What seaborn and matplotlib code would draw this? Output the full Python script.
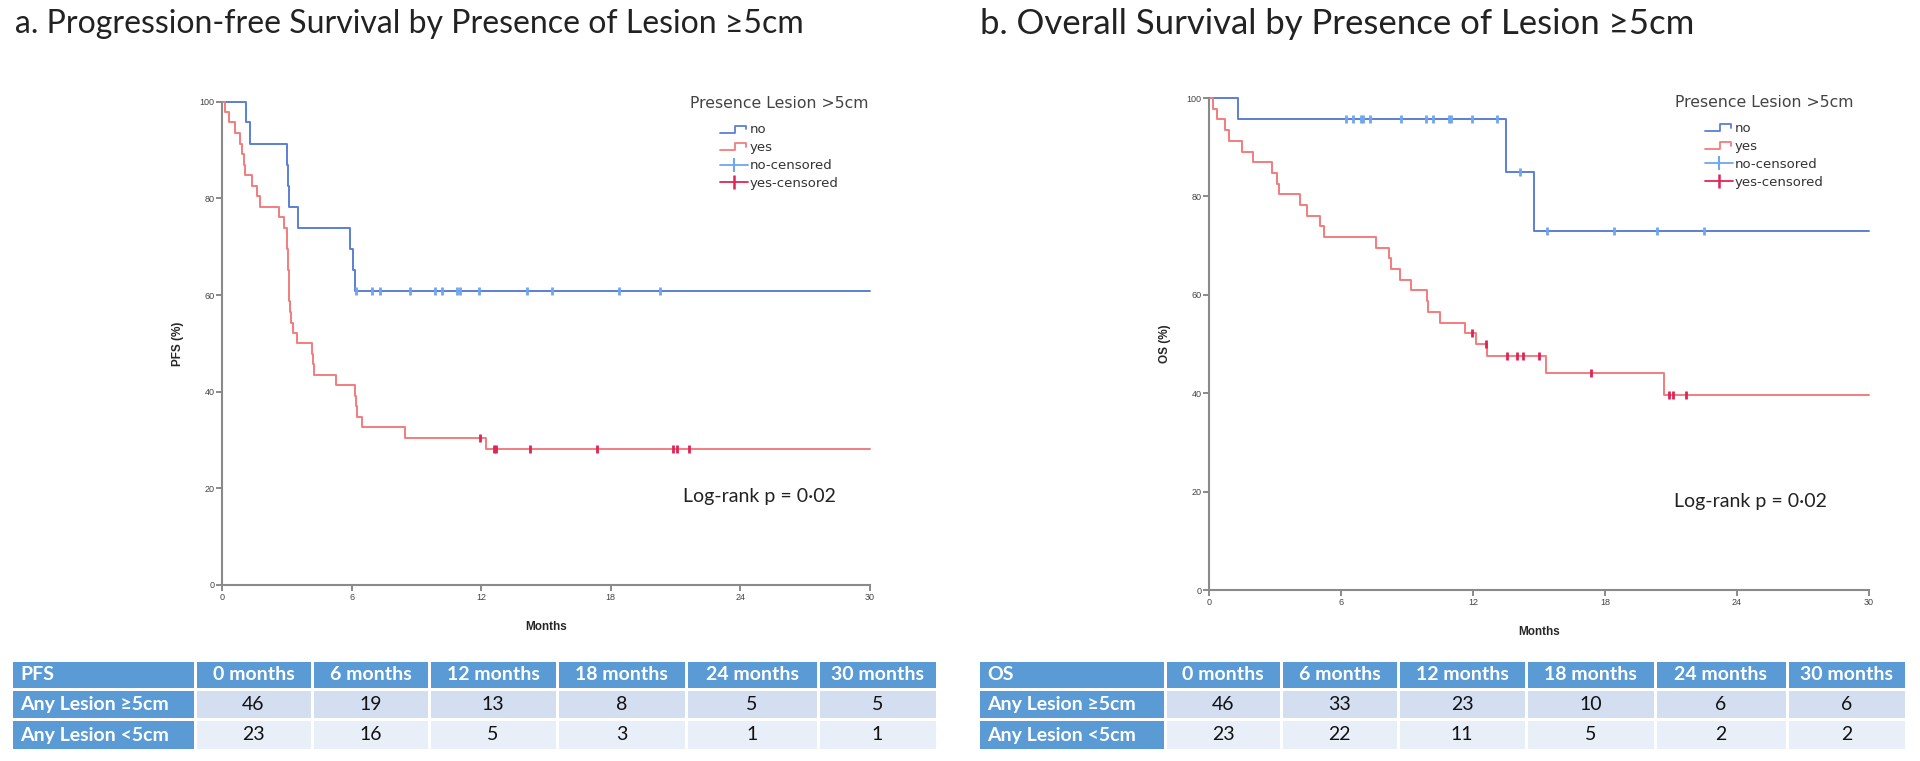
import numpy as np
import matplotlib
matplotlib.use("Agg")
import matplotlib.pyplot as plt
import seaborn as sns
from matplotlib.lines import Line2D
from matplotlib.patches import Rectangle
from matplotlib.legend_handler import HandlerBase

# ---- data ----
# PFS, no lesion >=5cm (n=23)
pfs_no_t = [0, 1.12, 1.3, 3.0, 3.05, 3.1, 3.53, 5.94, 6.05, 6.15, 30]
pfs_no_s = [100, 95.7, 91.3, 87.0, 82.6, 78.3, 73.9, 69.6, 65.2, 60.9, 60.9]
pfs_no_cens = [6.19, 6.93, 7.31, 8.72, 9.85, 10.2, 10.9, 11.0, 11.9, 14.1, 15.3, 18.4, 20.3]

# PFS, lesion >=5cm (n=46)
pfs_yes_t = [0, 0.12, 0.32, 0.58, 0.85, 0.94, 1.02, 1.05, 1.39, 1.62, 1.77, 2.64, 2.85,
             3.0, 3.02, 3.04, 3.06, 3.08, 3.1, 3.12, 3.15, 3.2, 3.3, 3.45,
             4.15, 4.22, 4.28, 5.27, 6.15, 6.2, 6.25, 6.5, 8.47, 12.2, 30]
pfs_yes_s = [100, 97.8, 95.7, 93.5, 91.3, 89.1, 87.0, 84.8, 82.6, 80.4, 78.3, 76.1, 73.9,
             71.7, 69.6, 67.4, 65.2, 63.0, 60.9, 58.7, 56.5, 54.3, 52.2, 50.0,
             47.8, 45.7, 43.5, 41.3, 39.1, 37.0, 34.8, 32.6, 30.4, 28.2, 28.2]
pfs_yes_cens = [11.93, 12.6, 12.7, 14.26, 17.36, 20.87, 21.08, 21.6]

# OS, no lesion >=5cm
os_no_t = [0, 1.3, 13.49, 14.77, 30]
os_no_s = [100, 95.7, 85.0, 72.9, 72.9]
os_no_cens = [6.21, 6.56, 6.9, 7.01, 7.32, 8.73, 9.85, 10.2, 10.9, 11.0, 11.94, 13.1,
              14.14, 15.38, 18.42, 20.35, 22.5]

# OS, lesion >=5cm
os_yes_t = [0, 0.2, 0.38, 0.73, 0.92, 1.48, 2.02, 2.85, 3.11, 3.2, 4.14, 4.47, 5.05, 5.23,
            7.59, 8.2, 8.27, 8.68, 9.17, 9.92, 9.97, 10.5, 11.64, 12.12, 12.62, 15.32, 20.68, 30]
os_yes_s = [100, 97.8, 95.7, 93.5, 91.3, 89.1, 87.0, 84.8, 82.6, 80.4, 78.3, 76.1, 73.9, 71.7,
            69.6, 67.4, 65.2, 63.0, 60.9, 58.7, 56.5, 54.3, 52.2, 49.9, 47.6, 44.1, 39.7, 39.7]
os_yes_cens = [11.94, 12.59, 13.56, 14.02, 14.26, 15.02, 17.36, 20.9, 21.1, 21.68]

# numbers at risk
risk_cols = ['0 months', '6 months', '12 months', '18 months', '24 months', '30 months']
risk_rows = ['Any Lesion \u22655cm', 'Any Lesion <5cm']
pfs_risk_big = [46, 19, 13, 8, 5, 5]
pfs_risk_small = [23, 16, 5, 3, 1, 1]
os_risk_big = [46, 33, 23, 10, 6, 6]
os_risk_small = [23, 22, 11, 5, 2, 2]

# ---- style ----
sns.set_style('white')
plt.rcParams['font.family'] = ['Liberation Sans', 'DejaVu Sans']
LATO = ['Lato', 'DejaVu Sans']

C_NO = '#5a7fd6'
C_NO_CENS = '#6fa6ef'
C_YES = '#f47c7e'
C_YES_CENS = '#df2457'


class StepHandler(HandlerBase):
    def create_artists(self, legend, orig_handle, xdescent, ydescent, width, height, fontsize, trans):
        xs = np.array([0, 0.55, 0.55, 0.95, 0.95]) * width - xdescent
        ys = np.array([0.1, 0.1, 0.85, 0.85, 0.45]) * height - ydescent
        ln = Line2D(xs, ys, color=orig_handle.get_color(), lw=orig_handle.get_linewidth(),
                    transform=trans)
        return [ln]


def step_at(t, s, c):
    idx = np.searchsorted(t, c, side='right') - 1
    return np.asarray(s)[idx]


def km_panel(ax, no_t, no_s, no_c, yes_t, yes_s, yes_c, ylabel, leg_x, leg_y, title_x, title_y,
             lr_x, lr_y):
    sns.lineplot(x=no_t, y=no_s, drawstyle='steps-post', color=C_NO, lw=1.4,
                 estimator=None, sort=False, ax=ax)
    sns.lineplot(x=yes_t, y=yes_s, drawstyle='steps-post', color=C_YES, lw=1.4,
                 estimator=None, sort=False, ax=ax)
    sns.scatterplot(x=no_c, y=step_at(no_t, no_s, no_c), marker='|', s=30,
                    color=C_NO_CENS, linewidth=2.0, ax=ax, zorder=4)
    sns.scatterplot(x=yes_c, y=step_at(yes_t, yes_s, yes_c), marker='|', s=32,
                    color=C_YES_CENS, linewidth=2.0, ax=ax, zorder=4)
    for ln in ax.lines:
        ln.set_clip_on(False)

    ax.set_xlim(0, 30)
    ax.set_ylim(0, 100)
    ax.set_xticks([0, 6, 12, 18, 24, 30])
    ax.set_yticks([0, 20, 40, 60, 80, 100])
    ax.tick_params(axis='both', direction='out', length=4, width=1.2, color='#777',
                   labelsize=6.5, labelcolor='#444', left=True, bottom=True, pad=1.5)
    for side in ['top', 'right']:
        ax.spines[side].set_visible(False)
    for side in ['left', 'bottom']:
        ax.spines[side].set_color('#8a8a8a')
        ax.spines[side].set_linewidth(1.5)
    ax.set_xlabel('Months', fontsize=8.5, fontweight='bold', labelpad=14)
    ax.set_ylabel(ylabel, fontsize=8.5, fontweight='bold', labelpad=11)

    ax.text(title_x, title_y, 'Presence Lesion >5cm', transform=ax.transAxes,
            fontsize=11.3, family='DejaVu Sans', color='#444', ha='left', va='center')
    h_no = Line2D([], [], color=C_NO, lw=1.3)
    h_yes = Line2D([], [], color=C_YES, lw=1.3)
    h_nc = Line2D([], [], color=C_NO_CENS, lw=1.3, marker='|', markersize=10, mew=1.5)
    h_yc = Line2D([], [], color=C_YES_CENS, lw=1.3, marker='|', markersize=10, mew=1.8)
    ax.legend([h_no, h_yes, h_nc, h_yc], ['no', 'yes', 'no-censored', 'yes-censored'],
              handler_map={h_no: StepHandler(), h_yes: StepHandler()},
              loc='upper left', bbox_to_anchor=(leg_x, leg_y), frameon=False,
              prop={'family': 'DejaVu Sans', 'size': 9.5}, handlelength=2.1,
              handletextpad=0.15, labelspacing=0.37,
              borderpad=0, borderaxespad=0, labelcolor='#333')
    ax.text(lr_x, lr_y, 'Log-rank p = 0\u00b702', transform=ax.transAxes,
            fontsize=14, family=LATO, color='#222', ha='left', va='center')


fig = plt.figure(figsize=(19.2, 7.61), dpi=100)

ax1 = fig.add_axes([222 / 1920, 1 - 585 / 761, 648 / 1920, 483.3 / 761])
km_panel(ax1, pfs_no_t, pfs_no_s, pfs_no_cens, pfs_yes_t, pfs_yes_s, pfs_yes_cens, 'PFS (%)',
         0.7685, 0.955, 0.722, 0.9967, 0.712, 0.183)

ax2 = fig.add_axes([1209 / 1920, 1 - 590 / 761, 660 / 1920, 492 / 761])
km_panel(ax2, os_no_t, os_no_s, os_no_cens, os_yes_t, os_yes_s, os_yes_cens, 'OS (%)',
         0.7515, 0.951, 0.706, 0.990, 0.705, 0.18)

# panel titles
fig.text(15 / 1920, 1 - 24 / 761, 'a. Progression-free Survival by Presence of Lesion \u22655cm',
         fontsize=23, family=LATO, color='#222', ha='left', va='center')
fig.text(980 / 1920, 1 - 24 / 761, 'b. Overall Survival by Presence of Lesion \u22655cm',
         fontsize=25, family=LATO, color='#222', ha='left', va='center')

# ---- numbers-at-risk tables, drawn in pixel coordinates ----
tax = fig.add_axes([0, 0, 1, 1], facecolor='none')
tax.set_xlim(0, 1920)
tax.set_ylim(761, 0)
tax.axis('off')

HEAD = '#5b9bd5'
ROW1 = '#d3dff1'
ROW2 = '#e9eff8'
row_edges = [(662, 688), (691, 718), (721, 749)]


def risk_table(col_edges, name, big, small):
    rows = [[name] + risk_cols,
            [risk_rows[0]] + [str(v) for v in big],
            [risk_rows[1]] + [str(v) for v in small]]
    for r, (y0, y1) in enumerate(row_edges):
        for c in range(len(col_edges) - 1):
            x0, x1 = col_edges[c] + 1.5, col_edges[c + 1] - 1.5
            if r == 0 or c == 0:
                fc = HEAD
            else:
                fc = ROW1 if r == 1 else ROW2
            tax.add_patch(Rectangle((x0, y0), x1 - x0, y1 - y0, facecolor=fc, edgecolor='none'))
            txt = rows[r][c]
            if c == 0:
                tax.text(x0 + 8, (y0 + y1) / 2, txt, ha='left', va='center', fontsize=14,
                         family=LATO, fontweight='bold', color='white')
            elif r == 0:
                tax.text((x0 + x1) / 2, (y0 + y1) / 2, txt, ha='center', va='center',
                         fontsize=14, family=LATO, fontweight='bold', color='white')
            else:
                tax.text((x0 + x1) / 2, (y0 + y1) / 2, txt, ha='center', va='center',
                         fontsize=14, family=LATO, color='#111')


risk_table([11, 195, 312, 429, 557, 686, 818, 937], 'PFS', pfs_risk_big, pfs_risk_small)
risk_table([978, 1165, 1281, 1398, 1526, 1655, 1787, 1906], 'OS', os_risk_big, os_risk_small)

fig.savefig('out.png', dpi=100)
